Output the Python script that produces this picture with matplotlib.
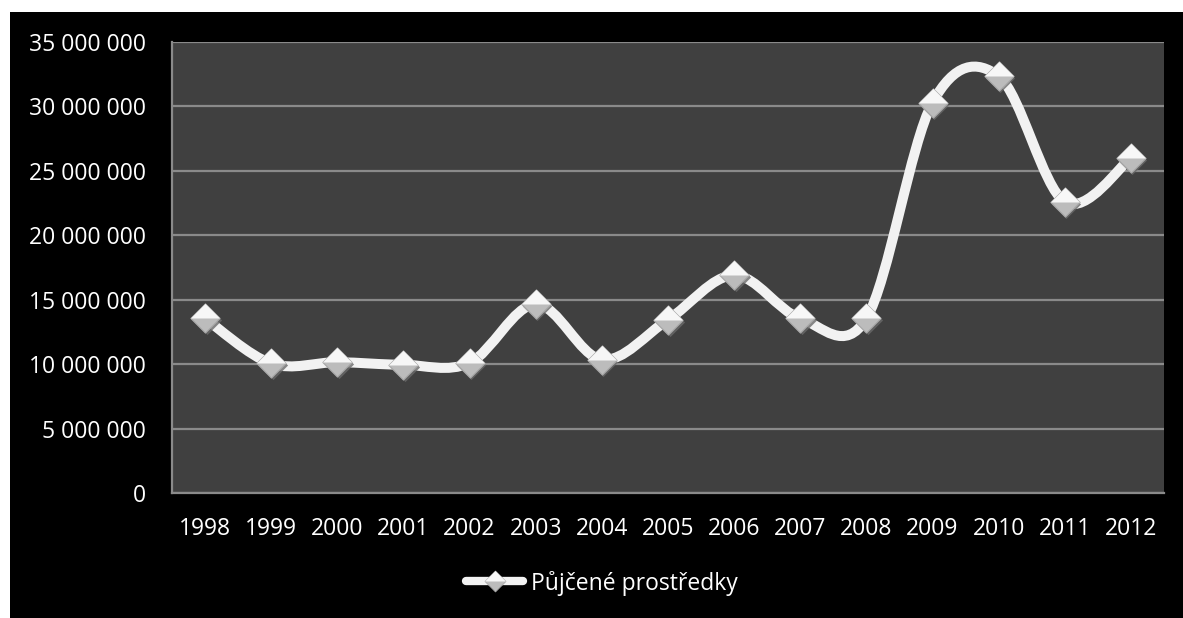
import numpy as np
import matplotlib.pyplot as plt
from matplotlib.path import Path
from matplotlib.patches import PathPatch, Rectangle
from matplotlib.lines import Line2D
from matplotlib.legend_handler import HandlerTuple
from matplotlib.ticker import FuncFormatter, MultipleLocator
from matplotlib.transforms import offset_copy

years = ['1998', '1999', '2000', '2001', '2002', '2003', '2004', '2005',
         '2006', '2007', '2008', '2009', '2010', '2011', '2012']
borrowed = [13550000, 10050000, 10150000, 9950000, 10100000, 14650000, 10350000,
            13450000, 16900000, 13550000, 13550000, 30300000, 32350000, 22600000, 26000000]
series_name = 'Půjčené prostředky'

plt.rcParams['font.family'] = ['Open Sans', 'DejaVu Sans']
W, H = 1183, 618


def smooth_path(x, y):
    # smoothed line: cubic Bezier segments with Catmull-Rom tangents
    pts = np.column_stack([x, y]).astype(float)
    padded = np.vstack([pts[0], pts, pts[-1]])
    verts = [pts[0]]
    codes = [Path.MOVETO]
    for i in range(len(pts) - 1):
        p0, p1, p2, p3 = padded[i], padded[i + 1], padded[i + 2], padded[i + 3]
        verts += [p1 + (p2 - p0) / 6, p2 - (p3 - p1) / 6, p2]
        codes += [Path.CURVE4] * 3
    return Path(verts, codes)


diamond = Path([(-1, 0), (0, 1), (1, 0), (0, -1), (-1, 0)], closed=True)
top_half = Path([(-1, 0), (0, 1), (1, 0), (-1, 0)], closed=True)

fig = plt.figure(figsize=(W / 100, H / 100), dpi=100)
fig.patch.set_facecolor('white')
fig.patches.append(Rectangle((10 / W, 0), 1, (H - 12) / H, transform=fig.transFigure,
                             facecolor='black', edgecolor='none', zorder=-10))

ax = fig.add_axes([172 / W, 1 - 493 / H, (1164 - 172) / W, (493 - 42) / H])
ax.set_facecolor('#404040')

x = np.arange(len(years))
y = np.array(borrowed, dtype=float)

ax.add_patch(PathPatch(smooth_path(x, y), facecolor='none', edgecolor='#f2f2f2',
                       lw=7.2, capstyle='round', joinstyle='round', zorder=3))

# markers: soft shadow, grey lower half, white upper half
shadow = offset_copy(ax.transData, fig=fig, x=1.5, y=-2, units='dots')
ax.plot(x, y, ls='none', marker=diamond, ms=21, mfc='#6a6a6a', mec='none',
        transform=shadow, zorder=4, alpha=0.8)
ax.plot(x, y, ls='none', marker=diamond, ms=21, mfc='#bcbcbc', mec='#a8a8a8',
        mew=0.8, zorder=5)
ax.plot(x, y, ls='none', marker=top_half, ms=21, mfc='#f7f7f7', mec='none', zorder=6)

ax.set_xlim(-0.5, len(years) - 0.5)
ax.set_ylim(0, 35000000)
ax.yaxis.set_major_locator(MultipleLocator(5000000))
ax.yaxis.set_major_formatter(FuncFormatter(lambda v, p: f'{int(v):,}'.replace(',', ' ')))
ax.set_xticks(x)
ax.set_xticklabels(years)

ax.grid(axis='y', color='#8a8a8a', lw=1.6)
ax.set_axisbelow(True)
for side in ['top', 'right']:
    ax.spines[side].set_visible(False)
for side in ['left', 'bottom']:
    ax.spines[side].set_color('#8a8a8a')
    ax.spines[side].set_linewidth(1.6)

ax.tick_params(axis='both', length=0, colors='white', labelsize=16.5)
ax.tick_params(axis='y', pad=19)
ax.tick_params(axis='x', pad=17)

# legend key: thick line with a small two-tone diamond on top
h_line = Line2D([], [], color='#f2f2f2', lw=6, solid_capstyle='round')
h_low = Line2D([], [], ls='none', marker=diamond, ms=15, mfc='#bcbcbc', mec='#a8a8a8', mew=0.6)
h_top = Line2D([], [], ls='none', marker=top_half, ms=15, mfc='#f7f7f7', mec='none')
leg = fig.legend([(h_line, h_low, h_top)], [series_name], loc='center',
                 bbox_to_anchor=(602 / W, 1 - 583 / H), frameon=False,
                 handler_map={tuple: HandlerTuple(ndivide=1, pad=0)},
                 handlelength=2.5, handletextpad=0.35, fontsize=16.5)
for t in leg.get_texts():
    t.set_color('white')

fig.savefig('out.png', dpi=100, facecolor=fig.get_facecolor())
